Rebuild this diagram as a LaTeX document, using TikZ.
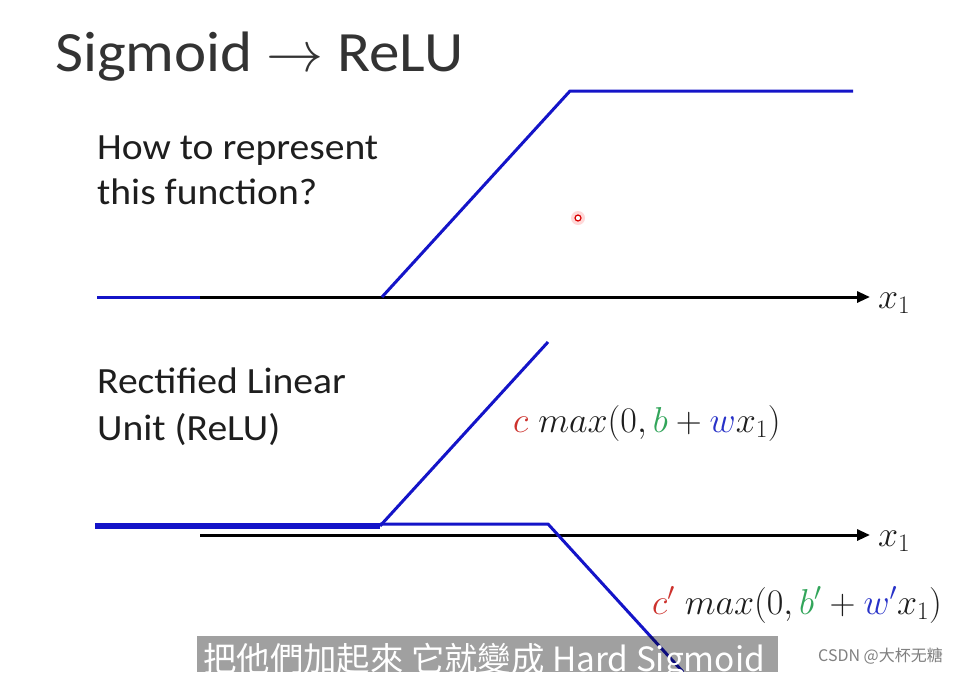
\RequirePackage{fix-cm}
\documentclass[tikz,border=0pt]{standalone}
\usepackage[no-math]{fontspec}
\setmainfont[FakeStretch=1.07]{Carlito}
\newfontfamily\cjktc{Noto Sans CJK TC}
\newfontfamily\cjksc{Noto Sans CJK SC}
\usetikzlibrary{arrows.meta}
\definecolor{fred}{RGB}{205,50,45}
\definecolor{fgreen}{RGB}{50,165,90}
\definecolor{fblue}{RGB}{40,50,200}
\definecolor{lineblue}{RGB}{20,20,200}
\definecolor{txtgray}{RGB}{30,30,30}
\definecolor{subgray}{RGB}{160,160,160}
\begin{document}
\begin{tikzpicture}[x=1pt,y=-1pt,
  txt/.style={anchor=base west, inner sep=0pt, text=txtgray, font=\fontsize{37}{40}\selectfont},
  blueline/.style={draw=lineblue, line width=3pt},
  axisline/.style={draw=black, line width=3pt, -{Triangle[length=13pt,width=11pt]}},
  mathlbl/.style={anchor=base west, inner sep=0pt, text=txtgray, font=\fontsize{36}{40}\selectfont},
]
\useasboundingbox[fill=white] (0,0) rectangle (968,672);

% title and texts
\node[txt, text=black!80, font=\fontsize{57}{60}\selectfont] (title) at (55,71) {Sigmoid $\rightarrow$ ReLU};
\node[txt] (q1) at (97,159) {How to represent};
\node[txt] (q2) at (97,204) {this function?};
\node[txt] (r1) at (97,393) {Rectified Linear};
\node[txt] (r2) at (97,440) {Unit (ReLU)};

% top graph
\coordinate (a0) at (97,297);
\coordinate (a1) at (200,297);
\coordinate (aS) at (382,297);
\coordinate (aT) at (570,91);
\coordinate (aE) at (853,91);
\coordinate (aX) at (870,297);
\draw[axisline] (a1) -- (aX);
\draw[blueline] (a0) -- (a1);
\draw[blueline, line join=round] (aS) -- (aT) -- (aE);
\node[mathlbl] (x1a) at (878,308) {$x_1$};

% cursor dot
\fill[red!25, opacity=0.6] (578,218) circle (7pt);
\draw[red!85!black, line width=1.2pt, fill=white] (578,218) circle (3pt);

% bottom graph
\coordinate (b1) at (200,535);
\coordinate (bX) at (870,535);
\coordinate (c0) at (95,526);
\coordinate (cS) at (380,526);
\coordinate (cT) at (548,342);
\coordinate (d0) at (380,524);
\coordinate (d1) at (548,524);
\coordinate (d2) at (683,672);
\draw[axisline] (b1) -- (bX);
\draw[draw=lineblue, line width=6pt] (c0) -- (cS);
\draw[blueline] (cS) -- (cT);
\draw[blueline, line join=round] (d0) -- (d1) -- (d2);
\node[mathlbl] (x1b) at (878,546) {$x_1$};

\node[mathlbl] (f1) at (513,432) {${\color{fred}c}\;max(0,{\color{fgreen}b}+{\color{fblue}w}x_1)$};
\node[mathlbl] (f2) at (652,614) {${\color{fred}c'}\;max(0,{\color{fgreen}b'}+{\color{fblue}w'}x_1)$};

% subtitle
\begin{scope}[blend mode=multiply]
\fill[subgray] (197,636) rectangle (778,672);
\end{scope}
\node[anchor=base west, inner sep=0pt, text=white, font=\cjktc\fontsize{33.4}{36}\selectfont] (sub) at (203,671) {把他們加起來 它就變成 Hard Sigmoid};
\node[anchor=base west, inner sep=0pt, text=black!50, font=\cjksc\fontsize{16}{18}\selectfont] (wm) at (818,661) {CSDN @大杯无糖};
\end{tikzpicture}
\end{document}
